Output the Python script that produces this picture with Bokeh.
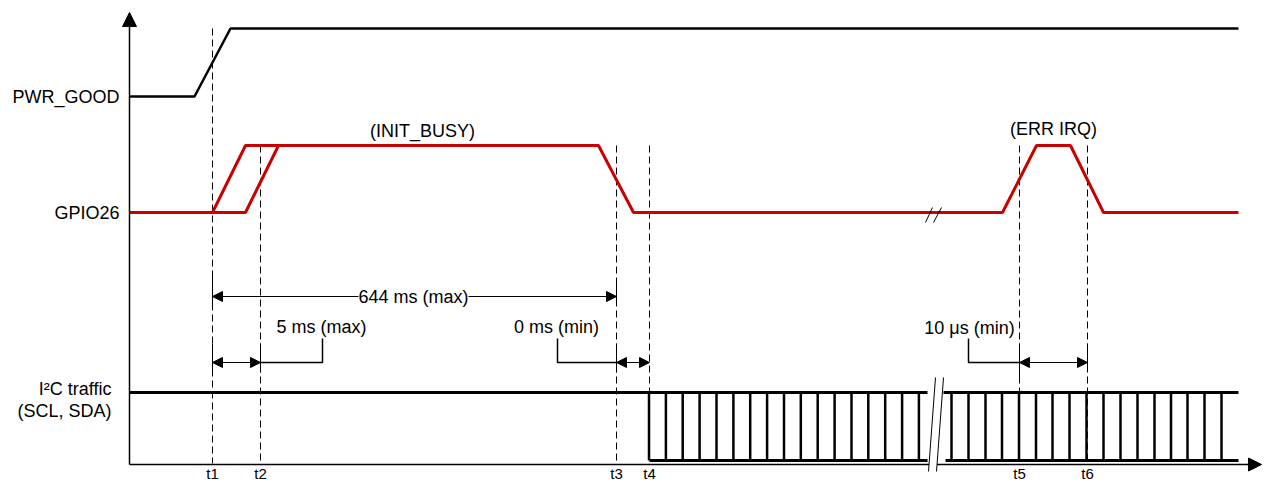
from bokeh.plotting import figure
from bokeh.models import Range1d, Arrow, NormalHead, Label
from bokeh.core.properties import value
from bokeh.embed import file_html
from bokeh.resources import INLINE

# ---------------- data (diagram coordinates: time units along x, level units along y) ----------------
FONT = "Liberation Sans"
RED = "#C80000"

# signal names (y level of each trace)
sig_names = ["PWR_GOOD", "GPIO26"]
sig_name_y = [96, 212]
i2c_names = ["I\u00b2C traffic", "(SCL, SDA)"]
i2c_name_y = [388, 410]

# PWR_GOOD trace
pwr_x = [129, 194, 230, 1238]
pwr_y = [96, 96, 28, 28]

# GPIO26 trace (main path) and the late (max-delay) rising edge
gpio_x = [129, 212, 245, 598, 633, 1002, 1036, 1070, 1103, 1238]
gpio_y = [212, 212, 145, 145, 212, 212, 145, 145, 212, 212]
gpio_late_x = [212, 245, 278]
gpio_late_y = [212, 212, 145]

# timing markers
t_labels = ["t1", "t2", "t3", "t4", "t5", "t6"]
t_x = [212, 260, 616, 649, 1019, 1087]
t_top = [28, 145, 145, 145, 145, 145]
t_bottom = [463, 463, 463, 392, 463, 463]

# I2C traffic bus
i2c_high = 392
i2c_low = 460
i2c_top_x0 = [129, 943]
i2c_top_x1 = [927, 1238]
i2c_bot_x0 = [649, 945]
i2c_bot_x1 = [927, 1238]
i2c_bars = [648.5, 665.4, 682.2, 699.1, 716, 732.9, 749.7, 766.6, 783.5, 800.3,
            817.2, 834.1, 851, 867.8, 884.7, 901.6, 918.4,
            951, 968, 985, 1001.5, 1018.5, 1035.5, 1052, 1069, 1086, 1103,
            1120, 1137, 1154, 1170.5, 1187, 1204, 1221]

# pulse annotations
pulse_text = ["(INIT_BUSY)", "(ERR IRQ)"]
pulse_x = [422, 1053]
pulse_y = [130, 128]

# dimension arrows
dim_x0 = [212, 212, 616, 1019]
dim_x1 = [616, 260, 649, 1087]
dim_y = [296, 362, 362, 362]

# solid extension ticks at arrow ends
ext_x = [212, 616, 212, 260, 616, 1019, 1087]
ext_y0 = [274, 278, 343, 343, 343, 343, 343]
ext_y1 = [304, 304, 372, 372, 372, 377, 368]

# leaders from value text to arrow
lead_xs = [[260, 322, 322], [557, 557, 616], [968, 968, 1019]]
lead_ys = [[362, 362, 338], [338, 362, 362], [338, 362, 362]]

# value texts
val_text = ["5 ms (max)", "0 ms (min)", "10 \u03bcs (min)"]
val_x = [321, 556, 969]
val_y = [326, 326, 327]
span_text = "644 ms (max)"
span_x = 413
span_y = 296

# axes
axis_x0 = 129
axis_y0 = 464
axis_y_tip = 12
axis_x_tip = 1261

# break marks ("//")
brk_red_xs = [[925, 932], [933, 941]]
brk_red_ys = [[222, 207], [222, 207]]
brk_i2c_xs = [[928, 935], [936, 943]]
brk_i2c_ys = [[471, 377], [471, 377]]
brk_fill_x = [928, 935, 943, 936]
brk_fill_y = [471, 377, 377, 471]

# ---------------- figure ----------------
p = figure(width=1262, height=482, x_range=Range1d(0, 1262), y_range=Range1d(482, 0),
           output_backend="svg", toolbar_location=None, min_border=0,
           x_axis_location=None, y_axis_location=None)
p.grid.visible = False
p.outline_line_color = None
p.background_fill_color = "white"

# dashed timing markers
p.segment(x0=t_x, y0=t_top, x1=t_x, y1=t_bottom, line_color="black",
          line_width=1, line_dash="7 4")

# traces
p.line(pwr_x, pwr_y, line_color="black", line_width=2.5)
p.line(gpio_x, gpio_y, line_color=RED, line_width=3)
p.line(gpio_late_x, gpio_late_y, line_color=RED, line_width=3)

# I2C bus
p.segment(x0=i2c_top_x0, y0=[i2c_high] * 2, x1=i2c_top_x1, y1=[i2c_high] * 2,
          line_color="black", line_width=3)
p.segment(x0=i2c_bot_x0, y0=[i2c_low] * 2, x1=i2c_bot_x1, y1=[i2c_low] * 2,
          line_color="black", line_width=3)
p.segment(x0=i2c_bars, y0=[i2c_high] * len(i2c_bars), x1=i2c_bars,
          y1=[i2c_low] * len(i2c_bars), line_color="black", line_width=2.5)

# axes lines
p.segment(x0=[axis_x0, axis_x0], y0=[axis_y0, axis_y0], x1=[axis_x0, axis_x_tip - 12],
          y1=[axis_y_tip + 12, axis_y0], line_color="black", line_width=1.5)

# break mark on i2c / axis
p.patch(brk_fill_x, brk_fill_y, fill_color="white", line_color=None)
p.multi_line(brk_i2c_xs, brk_i2c_ys, line_color="black", line_width=1)
p.multi_line(brk_red_xs, brk_red_ys, line_color="black", line_width=1)

# extension ticks and leaders
p.segment(x0=ext_x, y0=ext_y0, x1=ext_x, y1=ext_y1, line_color="black", line_width=1)
p.multi_line(lead_xs, lead_ys, line_color="black", line_width=1.5)

# axis arrow heads
p.add_layout(Arrow(end=NormalHead(size=14, fill_color="black", line_color="black"),
                   x_start=axis_x0, y_start=axis_y_tip + 14, x_end=axis_x0, y_end=axis_y_tip,
                   line_color="black", line_width=1.5))
p.add_layout(Arrow(end=NormalHead(size=13, fill_color="black", line_color="black"),
                   x_start=axis_x_tip - 14, y_start=axis_y0, x_end=axis_x_tip, y_end=axis_y0,
                   line_color="black", line_width=1.5))

# dimension arrows
for xa, xb, yy in zip(dim_x0, dim_x1, dim_y):
    p.add_layout(Arrow(start=NormalHead(size=10, fill_color="black", line_color="black"),
                       end=NormalHead(size=10, fill_color="black", line_color="black"),
                       x_start=xa, y_start=yy, x_end=xb, y_end=yy,
                       line_color="black", line_width=1))

# texts
common = dict(text_font=value(FONT), text_color="black")
p.text(x=[119] * len(sig_names), y=sig_name_y, text=sig_names, text_align="right",
       text_baseline="middle", text_font_size="18px", **common)
p.text(x=[111] * len(i2c_names), y=i2c_name_y, text=i2c_names, text_align="right",
       text_baseline="middle", text_font_size="18px", **common)
p.text(x=pulse_x, y=pulse_y, text=pulse_text, text_align="center",
       text_baseline="middle", text_font_size="18px", **common)
p.text(x=val_x, y=val_y, text=val_text, text_align="center",
       text_baseline="middle", text_font_size="18px", **common)
p.text(x=t_x, y=[481] * len(t_x), text=t_labels, text_align="center",
       text_baseline="bottom", text_font_size="15px", **common)

p.add_layout(Label(x=span_x, y=span_y, text=span_text, text_align="center",
                   text_baseline="middle", text_font=FONT, text_font_size="18px",
                   text_color="black", background_fill_color="white"))

open("out.html", "w").write(file_html(p, INLINE))
